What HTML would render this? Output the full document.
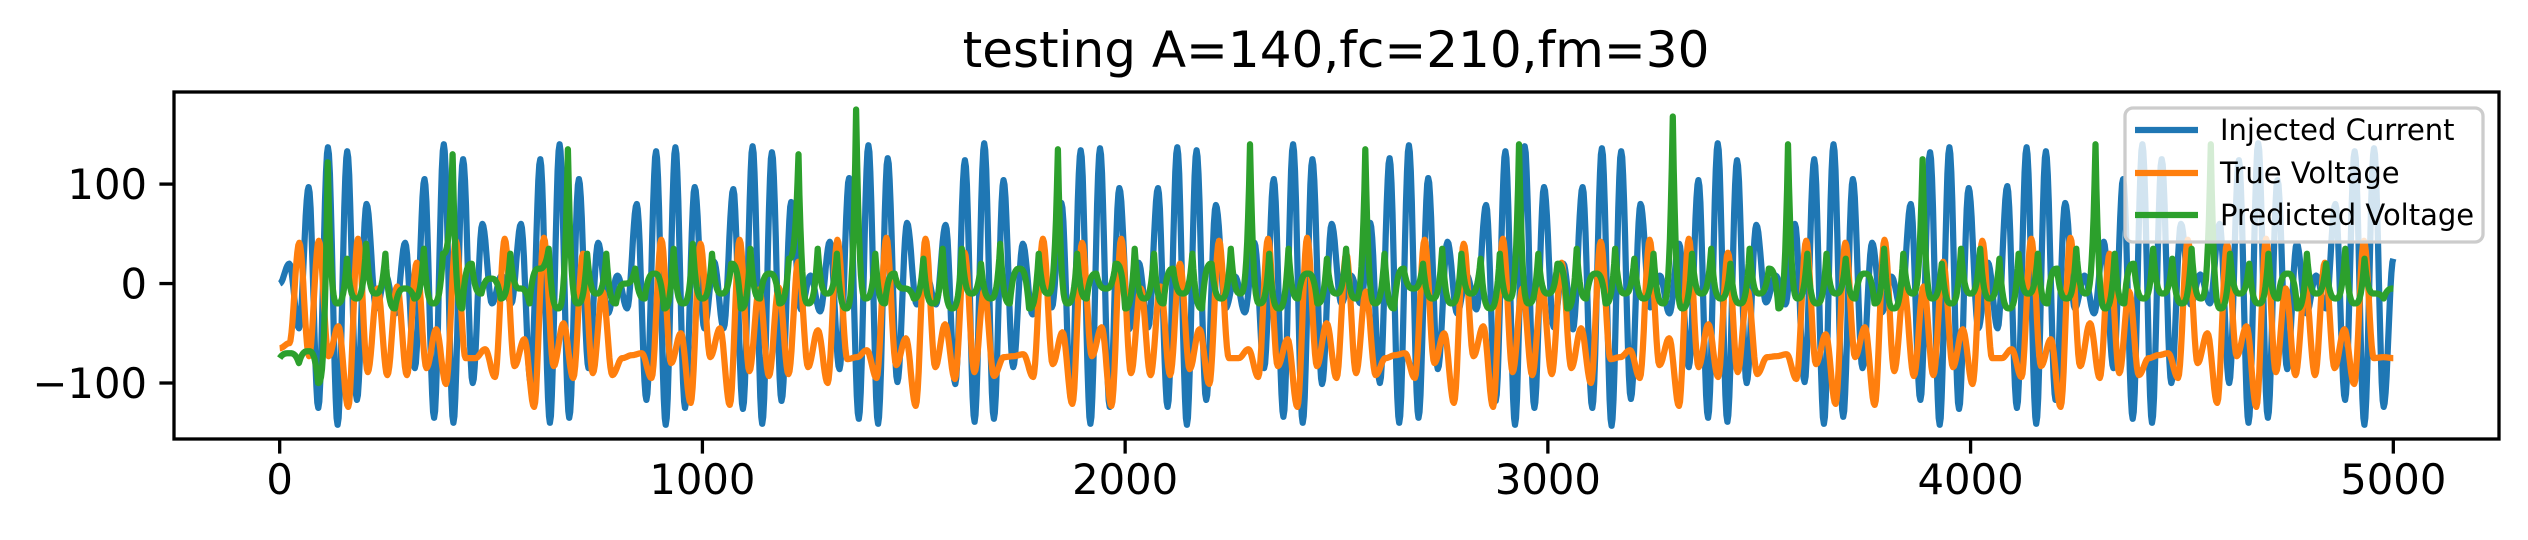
<!DOCTYPE html>
<html><head><meta charset="utf-8"><style>
html,body{margin:0;padding:0;background:#fff;}
svg{display:block;font-family:"DejaVu Sans","Liberation Sans",sans-serif;}
</style></head><body>
<svg id="chart" width="2528" height="540" viewBox="0 0 2528 540" xmlns="http://www.w3.org/2000/svg">
<rect x="0" y="0" width="2528" height="540" fill="#fff"/>
<text x="1336" y="67" font-size="50" text-anchor="middle">testing A=140,fc=210,fm=30</text>
<defs><clipPath id="clip"><rect x="174" y="92" width="2325" height="347"/></clipPath></defs>
<g id="series" clip-path="url(#clip)"></g>
<rect x="174" y="92" width="2325" height="347" fill="none" stroke="#000" stroke-width="3.3"/>
<g id="xticks"></g>
<g id="yticks"></g>
<g>
<rect x="2125" y="108" width="358" height="134" rx="8" fill="#fff" fill-opacity="0.8" stroke="#ccc" stroke-width="3.3"/>
<line x1="2135" y1="130" x2="2198" y2="130" stroke="#1f77b4" stroke-width="6.25"/>
<text x="2220" y="140" font-size="29">Injected Current</text>
<line x1="2135" y1="173" x2="2198" y2="173" stroke="#ff7f0e" stroke-width="6.25"/>
<text x="2220" y="183" font-size="29">True Voltage</text>
<line x1="2135" y1="215" x2="2198" y2="215" stroke="#2ca02c" stroke-width="6.25"/>
<text x="2220" y="225" font-size="29">Predicted Voltage</text>
</g>
</svg>
<script>
const xTicks=[0,1000,2000,3000,4000,5000];
const yTicks=[-100,0,100];
const yTickLabels=["\u2212100","0","100"];
const totalSamples=5000;
const currentVals=[0,
20,-45,97,-125,137,-142,133,-117,80,-25,8,-30,41,-85,105,-135,140,-140,125,-100,60,-20,8,-20,60,-100,125,-140,140,-135,105,-85,41,-30,8,-25,80,-117,133,-142,137,-125,97,-45,
22,-45,95,-126,138,-141,132,-118,82,-26,8,-28,42,-86,106,-136,139,-141,126,-99,61,-21,9,-21,59,-101,124,-139,141,-136,104,-84,40,-31,9,-24,81,-116,134,-141,136,-124,96,-46,
21,-44,96,-124,137,-142,134,-117,79,-25,7,-29,41,-85,105,-134,140,-140,125,-101,60,-20,8,-20,61,-100,126,-140,139,-135,106,-86,42,-30,8,-26,79,-118,133,-142,138,-125,97,-44,
20,-46,97,-125,136,-143,133,-116,80,-24,8,-30,40,-84,104,-135,141,-139,124,-100,59,-19,8,-21,60,-99,125,-141,140,-134,105,-85,41,-29,7,-25,80,-117,132,-142,137,-126,96,-45,
21,-45,98,-125,137,-141,133,-117,81,-25,8,-30,42,-85,105,-136,140,-140,125,-100,60,-21,9,-20,60,-100,124,-140,141,-135,104,-86,40,-30,8,-25,80,-117,133,-142,136,-124,25];
const trueVals=[-65,
-60,41,-73,43,-73,-43,-124,45,-89,-5,-92,-3,-92,21,-85,-46,-101,43,-75,-75,-66,-94,45,-83,-56,-124,46,-83,-40,-95,30,-90,-8,-92,-75,-72,-70,-95,44,-80,-50,-120,40,
-74,-45,-122,44,-88,-6,-93,-4,-91,22,-84,-47,-100,44,-76,-74,-67,-95,46,-82,-55,-123,45,-84,-41,-96,31,-89,-7,-93,-74,-73,-71,-94,45,-81,-49,-121,41,-73,-44,-123,
45,-90,-5,-92,-3,-92,20,-86,-46,-101,43,-75,-75,-66,-94,45,-83,-56,-124,46,-83,-40,-95,30,-90,-8,-92,-75,-72,-70,-95,44,-80,-50,-120,40,-73,-43,-124,45,-89,-5,-92,-4,
-91,21,-85,-45,-100,42,-76,-74,-67,-95,44,-82,-55,-123,45,-84,-41,-94,31,-89,-7,-91,-74,-73,-71,-96,43,-81,-51,-121,41,-74,-44,-122,44,-88,-6,-93,-3,-92,22,-84,-46,-101,
43,-75,-75,-66,-94,45,-83,-56,-124,46,-83,-40,-95,30,-90,-8,-92,-75,-72,-70,-95,44,-80,-50,-120,40,-73,-43,-124,45,-89,-5,-92,-3,-92,21,-85,-46,-101,43,-75,-74,-75];
const predVals=[-75,
-70,-80,-68,-100,122,-20,25,-15,40,-10,30,-25,-5,-15,35,-20,30,130,-25,20,-10,5,-15,30,-5,-20,15,35,-25,135,-20,30,-10,30,-20,0,15,-15,10,-25,35,-20,40,-15,
30,-10,20,-25,35,-15,10,-20,25,130,-20,35,-10,30,-25,175,-15,30,-20,10,-5,-15,25,-20,35,-25,35,-10,20,-15,40,-20,15,-25,30,-10,135,-20,30,-15,10,-5,20,-25,
35,-15,30,-20,15,-10,30,-25,20,-15,35,-10,140,-20,30,-25,35,-15,10,-20,25,-10,35,-15,135,-20,30,-25,15,-5,20,-15,35,-20,30,-10,25,-25,30,-15,140,-20,30,-10,
20,-25,35,-15,10,-20,35,-10,25,-15,30,-20,168,-25,30,-10,35,-15,20,-20,35,-10,15,-25,140,-15,30,-20,30,-10,25,-15,10,-20,35,-25,30,-10,125,-15,20,-20,35,-10,
35,-15,25,-25,30,-10,30,-20,15,-15,35,-10,140,-25,30,-20,20,-15,35,-10,25,-20,35,-15,140,-25,30,-10,20,-20,30,-15,10,-25,30,-10,20,-15,35,-20,25,-10,-15,-5];

const NS='http://www.w3.org/2000/svg';
const X0=174,X1=2499,Y0=92,Y1=439;
const xMin=-250,xMax=5250,yMin=-156.3,yMax=192.6;
function xs(v){return X0+(v-xMin)/(xMax-xMin)*(X1-X0);}
function ys(v){return Y1-(v-yMin)/(yMax-yMin)*(Y1-Y0);}
function mk(t,a){const e=document.createElementNS(NS,t);for(const k in a)e.setAttribute(k,a[k]);return e;}

function buildPath(vals,mode){
  const n=vals.length, step=totalSamples/(n-1);
  let d='';
  for(let i=0;i<n-1;i++){
    const sub=10, a=vals[i], b=vals[i+1];
    for(let k=0;k<sub;k++){
      const t=k/sub;
      let w;
      if(mode==='smooth') w=(1-Math.cos(Math.PI*t))/2;
      else { w = Math.abs(b)>Math.abs(a) ? t*t*t : 1-Math.pow(1-t,3); }
      const v=a+(b-a)*w;
      const s=(i+t)*step;
      d+=(d?'L':'M')+xs(s).toFixed(1)+' '+ys(v).toFixed(1);
    }
  }
  d+='L'+xs(totalSamples).toFixed(1)+' '+ys(vals[n-1]).toFixed(1);
  return d;
}
const g=document.getElementById('series');
const series=[[currentVals,'#1f77b4','smooth','line-injected-current'],[trueVals,'#ff7f0e','smooth','line-true-voltage'],[predVals,'#2ca02c','peaky','line-predicted-voltage']];
for(const [vals,col,mode,name] of series){
  const p=mk('path',{d:buildPath(vals,mode),fill:'none',stroke:col,'stroke-width':6.25,'stroke-linejoin':'round'});
  
  
  g.appendChild(p);
}
const xt=document.getElementById('xticks');
for(const v of xTicks){
  const x=xs(v);
  const l=mk('line',{x1:x,y1:Y1,x2:x,y2:Y1+14.6,stroke:'#000','stroke-width':3.3});
  
  
  xt.appendChild(l);
  const t=mk('text',{x:x,y:494,'font-size':41.7,'text-anchor':'middle'});
  
  
  t.textContent=String(v);
  xt.appendChild(t);
}
const yt=document.getElementById('yticks');
yTicks.forEach((v,i)=>{
  const y=ys(v);
  const l=mk('line',{x1:X0-14.6,y1:y,x2:X0,y2:y,stroke:'#000','stroke-width':3.3});
  
  
  yt.appendChild(l);
  const t=mk('text',{x:X0-27,y:y+15,'font-size':41.7,'text-anchor':'end'});
  
  
  t.textContent=yTickLabels[i];
  yt.appendChild(t);
});
</script>
</body></html>
